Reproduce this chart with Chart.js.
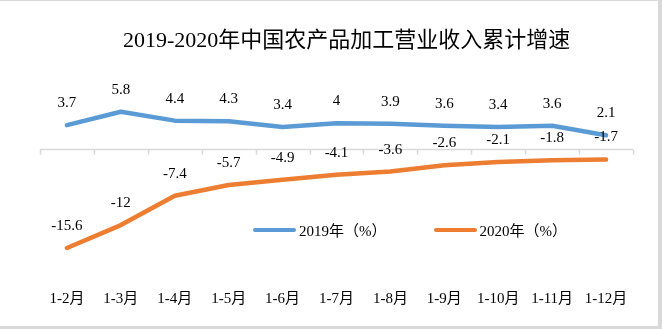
<!doctype html>
<html>
<head>
<meta charset="utf-8">
<script src="https://cdn.jsdelivr.net/npm/chart.js"></script>
<style>
body {
	margin: 0;
	background: #d9d9d9;
}
#wrap {
	position: absolute;
	left: 0;
	top: 1px;
	width: 658px;
	height: 325px;
	background: #fff;
}
#title {
	position: absolute;
	left: 123px;
	top: 20px;
	font-size: 22px;
	font-family: 'Liberation Serif', 'Noto Sans CJK SC', serif;
	color: #000;
	white-space: nowrap;
}
#legend {
	position: absolute;
	left: 253px;
	top: 218px;
	display: flex;
	gap: 47px;
	font-size: 15px;
	font-family: 'Liberation Serif', 'Noto Sans CJK SC', serif;
	color: #000;
}
.item {
	display: flex;
	align-items: center;
	white-space: nowrap;
}
.swatch {
	width: 43px;
	height: 4px;
	border-radius: 2px;
	margin-right: 3px;
}
</style>
</head>
<body>
<div id="wrap">
	<canvas id="myChart" width="658" height="325"></canvas>
	<div id="title">2019-2020年中国农产品加工营业收入累计增速</div>
	<div id="legend"></div>
</div>
<script>

	var months = ['1-2月', '1-3月', '1-4月', '1-5月', '1-6月', '1-7月', '1-8月', '1-9月', '1-10月', '1-11月', '1-12月'];
	var growth2019 = [3.7, 5.8, 4.4, 4.3, 3.4, 4, 3.9, 3.6, 3.4, 3.6, 2.1];
	var growth2020 = [-15.6, -12, -7.4, -5.7, -4.9, -4.1, -3.6, -2.6, -2.1, -1.8, -1.7];

	var serif = "'Liberation Serif', 'Noto Sans CJK SC', serif";

	// zero line with small tick marks between the months
	var zeroAxis = {
		id: 'zeroAxis',
		beforeDatasetsDraw: function (chart) {
			var c = chart.ctx;
			var x = chart.scales.x;
			var y0 = Math.round(chart.scales.y.getPixelForValue(0)) + 0.5;
			var step = (x.right - x.left) / months.length;
			c.save();
			c.strokeStyle = '#d9d9d9';
			c.lineWidth = 1.5;
			c.beginPath();
			c.moveTo(x.left, y0);
			c.lineTo(x.right, y0);
			for (var i = 0; i <= months.length; i++) {
				var px = Math.round(x.left + i * step) + 0.5;
				c.moveTo(px, y0);
				c.lineTo(px, y0 + 5);
			}
			c.stroke();
			c.restore();
		}
	};

	// value labels above every point
	var valueLabels = {
		id: 'valueLabels',
		afterDatasetsDraw: function (chart) {
			var c = chart.ctx;
			c.save();
			c.font = '15px ' + serif;
			c.fillStyle = '#000';
			c.textAlign = 'center';
			c.textBaseline = 'middle';
			chart.data.datasets.forEach(function (ds, i) {
				chart.getDatasetMeta(i).data.forEach(function (pt, j) {
					c.fillText(String(ds.data[j]), pt.x, pt.y - 22);
				});
			});
			c.restore();
		}
	};

	const chart = new Chart(document.getElementById('myChart'), {
		type: 'line',
		data: {
			labels: months,
			datasets: [
				{
					label: '2019年（%）',
					data: growth2019,
					borderColor: '#5b9bd5',
					backgroundColor: '#5b9bd5'
				},
				{
					label: '2020年（%）',
					data: growth2020,
					borderColor: '#ed7d31',
					backgroundColor: '#ed7d31'
				}
			]
		},
		options: {
			responsive: false,
			animation: false,
			layout: {
				padding: { left: 40, right: 25, top: 84, bottom: 12 }
			},
			elements: {
				line: { borderWidth: 4.5, tension: 0, borderCapStyle: 'round', borderJoinStyle: 'round' },
				point: { radius: 0, hoverRadius: 0 }
			},
			plugins: {
				legend: { display: false },
				tooltip: { enabled: false }
			},
			scales: {
				x: {
					offset: true,
					grid: { display: false },
					border: { display: false },
					ticks: {
						color: '#000',
						padding: 6,
						maxRotation: 0,
						autoSkip: false,
						font: { size: 15, family: serif }
					}
				},
				y: {
					display: false,
					min: -20,
					max: 10
				}
			}
		},
		plugins: [zeroAxis, valueLabels]
	});

	var legend = document.getElementById('legend');
	chart.data.datasets.forEach(function (ds) {
		var item = document.createElement('div');
		item.className = 'item';
		var sw = document.createElement('span');
		sw.className = 'swatch';
		sw.style.background = ds.borderColor;
		var txt = document.createElement('span');
		txt.textContent = ds.label;
		item.appendChild(sw);
		item.appendChild(txt);
		legend.appendChild(item);
	});

</script>
</body>
</html>
